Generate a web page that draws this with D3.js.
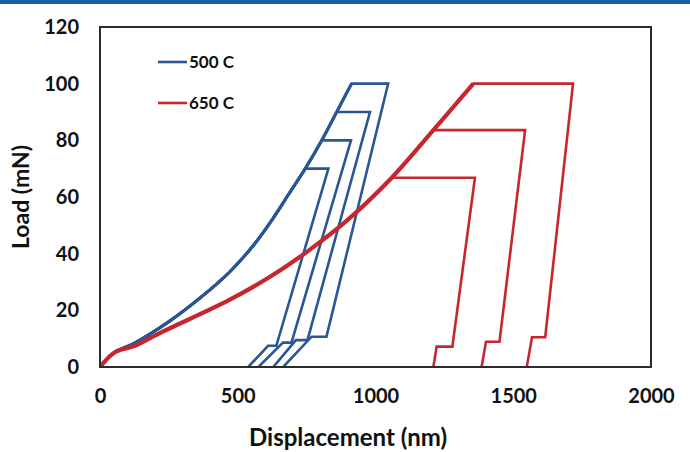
<!DOCTYPE html>
<html>
<head>
<meta charset="utf-8">
<script src="https://cdn.jsdelivr.net/npm/d3@7/dist/d3.min.js"></script>
<style>
  html, body { margin: 0; padding: 0; background: #fff; }
  svg { display: block; font-family: Lato, "Open Sans", sans-serif; }
</style>
</head>
<body>
<svg id="chart" width="690" height="452"></svg>
<script>
// ---------- data ----------
const xTicks = [0, 500, 1000, 1500, 2000];
const yTicks = [0, 20, 40, 60, 80, 100, 120];
const seriesNames = ["500 C", "650 C"];

// 500 C loading curve (shared by all cycles)
const blueLoadX = [0, 54, 127, 250, 365, 470, 560, 625, 685, 745, 805, 859, 913];
const blueLoadY = [0, 5.2, 8.5, 16, 24.5, 33.5, 43.3, 52, 61, 70, 80, 90, 100];
// 500 C cycles
const bluePeak      = [70, 80, 90, 100];
const blueHoldEnd   = [829, 911, 980, 1046];
const blueStepLoad  = [7.5, 8.6, 9.5, 10.7];
const blueStepRight = [640, 695, 753, 822];
const blueStepLeft  = [610, 664, 711, 768];
const blueFinal     = [538, 575, 629, 665];

// 650 C loading curve
const redLoadX = [0, 54, 127, 224, 466, 620, 756, 900, 1059, 1210, 1355];
const redLoadY = [0, 5.2, 7.5, 12.3, 23.5, 32, 41, 52, 66.8, 83.6, 100];
// 650 C cycles
const redPeak      = [66.8, 83.6, 100];
const redHoldEnd   = [1361, 1543, 1717];
const redStepLoad  = [7.2, 8.9, 10.5];
const redStepRight = [1279, 1450, 1616];
const redStepLeft  = [1222, 1401, 1568];
const redFinal     = [1210, 1385, 1549];

// ---------- layout ----------
const svg = d3.select("#chart");
const W = 690, H = 452;
const m = { left: 100, right: 39, top: 27, bottom: 85 };
const x = d3.scaleLinear().domain([0, 2000]).range([m.left, W - m.right]);
const y = d3.scaleLinear().domain([0, 120]).range([H - m.bottom, m.top]);

const blue = "#2a5794", red = "#c8262d";

// top banner line
svg.append("rect").attr("x", 0).attr("y", 0).attr("width", W).attr("height", 4).attr("fill", "#1f5ea8");

// clip
svg.append("clipPath").attr("id", "clip").append("rect")
  .attr("x", m.left).attr("y", m.top).attr("width", x(2000) - m.left).attr("height", y(0) - m.top);

const loadLine = d3.line().x(d => x(d[0])).y(d => y(d[1])).curve(d3.curveCatmullRom.alpha(0.5));
const straight = d3.line().x(d => x(d[0])).y(d => y(d[1]));

function cyclePath(loadX, loadY, peak, holdEnd, stepLoad, stepRight, stepLeft, fin) {
  const pts = [];
  for (let k = 0; k < loadX.length; k++) {
    if (loadY[k] <= peak + 1e-9) pts.push([loadX[k], loadY[k]]);
  }
  const rest = [pts[pts.length - 1], [holdEnd, peak], [stepRight, stepLoad], [stepLeft, stepLoad], [fin, 0]];
  return loadLine(pts) + straight(rest).replace(/^M/, "L");
}

const g = svg.append("g").attr("clip-path", "url(#clip)");

bluePeak.forEach((p, i) => {
  g.append("path")
    .attr("d", cyclePath(blueLoadX, blueLoadY, p, blueHoldEnd[i], blueStepLoad[i], blueStepRight[i], blueStepLeft[i], blueFinal[i]))
    .attr("fill", "none").attr("stroke", blue).attr("stroke-width", 2.6).attr("stroke-linejoin", "miter");
});
// slightly thicker shared blue loading trace
g.append("path")
  .attr("d", loadLine(blueLoadX.map((v, k) => [v, blueLoadY[k]])))
  .attr("fill", "none").attr("stroke", blue).attr("stroke-width", 3.2);

redPeak.forEach((p, i) => {
  g.append("path")
    .attr("d", cyclePath(redLoadX, redLoadY, p, redHoldEnd[i], redStepLoad[i], redStepRight[i], redStepLeft[i], redFinal[i]))
    .attr("fill", "none").attr("stroke", red).attr("stroke-width", 2.6).attr("stroke-linejoin", "miter");
});
// thicker shared red loading trace
g.append("path")
  .attr("d", loadLine(redLoadX.map((v, k) => [v, redLoadY[k]])))
  .attr("fill", "none").attr("stroke", red).attr("stroke-width", 4.2);

// frame
svg.append("rect")
  .attr("x", m.left).attr("y", m.top).attr("width", x(2000) - m.left).attr("height", y(0) - m.top)
  .attr("fill", "none").attr("stroke", "#2b2b2b").attr("stroke-width", 2);

// axes
const xAxis = svg.append("g").attr("transform", `translate(0,${y(0)})`)
  .call(d3.axisBottom(x).tickValues(xTicks).tickSize(0).tickPadding(22).tickFormat(d3.format("d")));
xAxis.select(".domain").remove();
xAxis.selectAll("text").attr("font-size", 20).attr("font-weight", 700).attr("fill", "#111").attr("font-family", "Lato");

const yAxis = svg.append("g").attr("transform", `translate(${m.left},0)`)
  .call(d3.axisLeft(y).tickValues(yTicks).tickSize(0).tickPadding(21).tickFormat(d3.format("d")));
yAxis.select(".domain").remove();
yAxis.selectAll("text").attr("font-size", 20).attr("font-weight", 700).attr("fill", "#111").attr("font-family", "Lato");

// axis titles
svg.append("text").attr("x", 348).attr("y", 446)
  .attr("text-anchor", "middle").attr("font-size", 24).attr("font-weight", 700).attr("fill", "#111")
  .text("Displacement (nm)");
svg.append("text").attr("transform", `translate(29,${(m.top + y(0)) / 2}) rotate(-90)`)
  .attr("text-anchor", "middle").attr("font-size", 23).attr("font-weight", 700).attr("fill", "#111")
  .text("Load (mN)");

// legend
const legY = [62, 103];
const legColors = [blue, red];
seriesNames.forEach((name, i) => {
  svg.append("line").attr("x1", 158).attr("x2", 187).attr("y1", legY[i]).attr("y2", legY[i])
    .attr("stroke", legColors[i]).attr("stroke-width", 2.6);
  svg.append("text").attr("x", 189).attr("y", legY[i]).attr("dy", "0.36em")
    .attr("font-size", 17).attr("font-weight", 700).attr("fill", "#111").text(name);
});
</script>
</body>
</html>
